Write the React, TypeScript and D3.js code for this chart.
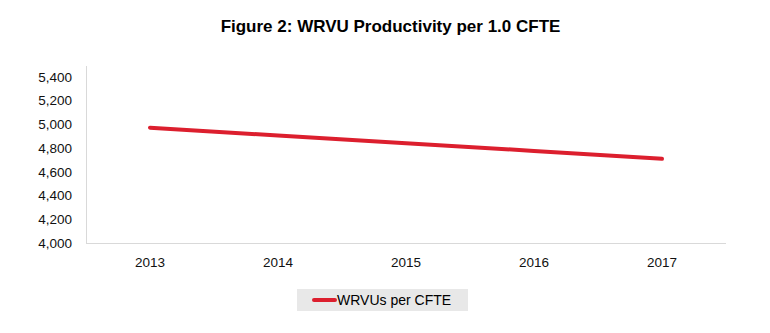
import React from "react";
import * as d3 from "d3";

const categories = ["2013", "2014", "2015", "2016", "2017"];
const values = [4971, 4905, 4840, 4775, 4709];
const yTicks = [4000, 4200, 4400, 4600, 4800, 5000, 5200, 5400];
const seriesName = "WRVUs per CFTE";
const title = "Figure 2: WRVU Productivity per 1.0 CFTE";

export default function App() {
  const W = 770, H = 333;
  const left = 86, right = 726, top = 66, bottom = 243;
  const x = d3.scaleBand<string>().domain(categories).range([left, right]);
  const y = d3.scaleLinear().domain([4000, 5490]).range([bottom, top]);
  const line = d3
    .line<number>()
    .x((_, i) => (x(categories[i]) as number) + x.bandwidth() / 2)
    .y((d) => y(d));
  const fmt = d3.format(",");
  const font = "'Liberation Sans', Arial, sans-serif";
  return (
    <svg width={W} height={H} style={{ position: "absolute", left: 0, top: 0 }}>
      <rect width={W} height={H} fill="#fff" />
      <text x={390.5} y={32} textAnchor="middle" fontFamily={font} fontWeight="bold" fontSize={17} fill="#000">
        {title}
      </text>
      <line x1={left + 0.5} x2={left + 0.5} y1={top} y2={bottom} stroke="#d9d9d9" strokeWidth={1} />
      <line x1={left} x2={right} y1={bottom + 0.5} y2={bottom + 0.5} stroke="#d9d9d9" strokeWidth={1} />
      {yTicks.map((t) => (
        <text key={t} x={72} y={y(t)} dy="0.36em" textAnchor="end" fontFamily={font} fontSize={13.5} fill="#111">
          {fmt(t)}
        </text>
      ))}
      {categories.map((c) => (
        <text key={c} x={(x(c) as number) + x.bandwidth() / 2} y={267} textAnchor="middle" fontFamily={font} fontSize={13.5} fill="#111">
          {c}
        </text>
      ))}
      <path d={line(values) || ""} fill="none" stroke="#dc1f2e" strokeWidth={4} strokeLinecap="round" />
      <rect x={297} y={289} width={171} height={22} fill="#e8e8e8" />
      <line x1={314} x2={335} y1={300} y2={300} stroke="#dc1f2e" strokeWidth={4} strokeLinecap="round" />
      <text x={337} y={305} fontFamily={font} fontSize={14} fill="#000">
        {seriesName}
      </text>
    </svg>
  );
}
